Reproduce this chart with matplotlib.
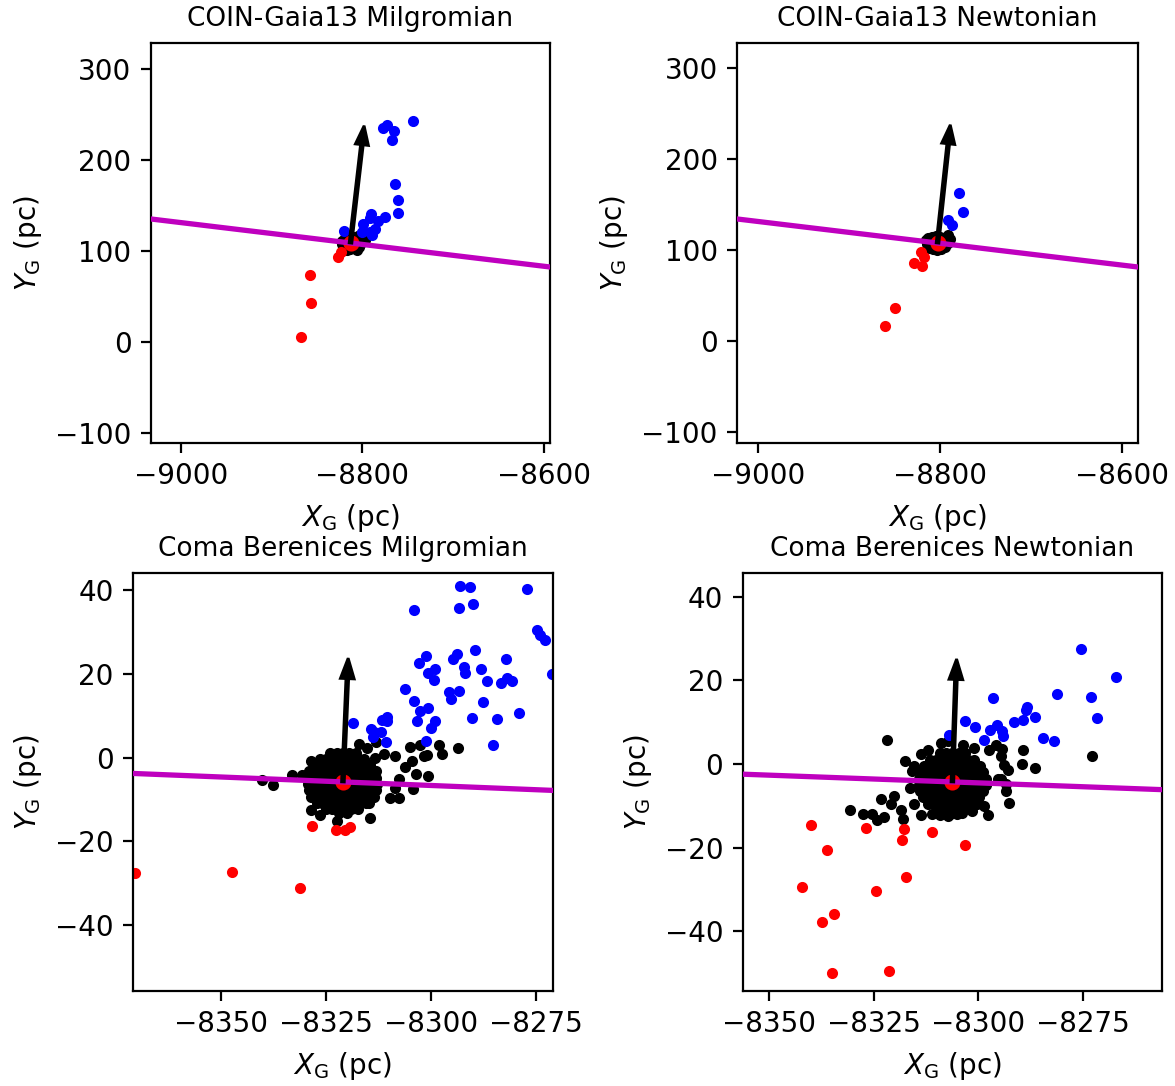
import matplotlib
matplotlib.use("Agg")
import matplotlib.pyplot as plt
from matplotlib.ticker import MultipleLocator

# ---------------- data ----------------
titles = ["COIN-Gaia13 Milgromian", "COIN-Gaia13 Newtonian",
          "Coma Berenices Milgromian", "Coma Berenices Newtonian"]

# cluster centres (pc)
tl_center = (-8813.0, 108.5)
tr_center = (-8802.5, 108.0)
bl_center = (-8321.0, -5.8)
br_center = (-8306.2, -4.3)

# half-width of the square view (pc)
top_halfwidth = 220.0
bottom_halfwidth = 50.0

# motion arrows (dx, dy) in pc
tl_arrow = (15.0, 129.0)
tr_arrow = (14.0, 130.0)
bl_arrow = (1.25, 29.6)
br_arrow = (1.0, 29.4)

# slope of the magenta line through the centre
tl_slope = -0.12
tr_slope = -0.12
bl_slope = -0.0405
br_slope = -0.037

# ---- COIN-Gaia13 Milgromian ----
tl_black_x = [-8822.5, -8819, -8815, -8810, -8805, -8802, -8799, -8797, -8801, -8804,
              -8806, -8810, -8814, -8817, -8820, -8822, -8816, -8811, -8808, -8814, -8807]
tl_black_y = [110.5, 114.5, 116.5, 115.5, 116.5, 117.5, 112.5, 111.5, 108.5, 104.5,
              100.5, 102.5, 101.5, 101.0, 104.5, 107.5, 109.5, 110.5, 106.5, 105.5, 111.5]
tl_blue_x = [-8744.1, -8777.4, -8772.3, -8764.6, -8766.8, -8764.2, -8760.9, -8760.9, -8774.5,
             -8782.9, -8790.3, -8791.4, -8799.4, -8785.9, -8791.4, -8789.2, -8820.7, -8800.5]
tl_blue_y = [243.2, 235.1, 238.0, 231.8, 221.6, 173.2, 156.0, 141.0, 137.3,
             132.9, 140.3, 135.5, 128.9, 124.1, 120.5, 116.8, 121.9, 120.8]
tl_red_x = [-8867.2, -8856.9, -8857.6, -8826.9, -8823.2]
tl_red_y = [5.1, 42.1, 72.9, 93.4, 98.5]

# ---- COIN-Gaia13 Newtonian ----
tr_black_x = [-8815.5, -8812.5, -8808.5, -8804.5, -8799.5, -8794.5, -8790.5, -8788.5, -8791.5, -8794.5,
              -8798.5, -8803.5, -8807.5, -8811.5, -8814.5, -8808.5, -8802.5, -8797.5, -8801.5, -8805.5]
tr_black_y = [111, 114, 115, 116, 115, 114, 117, 112, 108, 104,
              101, 100, 101, 103, 107, 108, 110, 109, 105, 105]
tr_blue_x = [-8778.7, -8774.3, -8791.5, -8786.4]
tr_blue_y = [163.0, 142.5, 133.3, 127.4]
tr_red_x = [-8820.5, -8817.9, -8828.2, -8819.7, -8849.4, -8859.7]
tr_red_y = [98.5, 92.6, 86.0, 83.1, 37.0, 16.5]

# ---- Coma Berenices Milgromian ----
# dense core: rows of offsets from the centre {dy: [dx, ...]}
bl_core_rows = {
    7.0: [-3, -1.5, 0, 1.5, 3],
    5.5: [-5.5, -4, -2.5, -1, 0.5, 2, 3.5, 5],
    4.0: [-7, -5.5, -4, -2.5, -1, 0.5, 2, 3.5, 5, 6.5],
    2.5: [-8, -6.5, -5, -3.5, -2, -0.5, 1, 2.5, 4, 5.5, 7, 8],
    1.0: [-8.3, -7, -5.5, -4, -2.5, -1, 0.5, 2, 3.5, 5, 6.5, 8],
    -0.5: [-8.4, -7, -5.5, -4, -2.5, -1, 0.5, 2, 3.5, 5, 6.5, 8.2],
    -2.0: [-8, -6.5, -5, -3.5, -2, -0.5, 1, 2.5, 4, 5.5, 7, 8],
    -3.5: [-7.5, -6, -4.5, -3, -1.5, 0, 1.5, 3, 4.5, 6, 7.5],
    -5.0: [-6.3, -5, -3.5, -2, -0.5, 1, 2.5, 4, 5.5, 6.3],
    -6.5: [-4, -2.5, -1, 0.5, 2, 3.5],
    -7.5: [-1, 1],
}
bl_black_x = [-8340.2, -8337.6, -8333.1, -8330.8, -8328.7, -8326.5, -8322.5, -8317.1, -8314.6, -8309.8,
              -8307.7, -8308.6, -8306.3, -8304.2, -8303.6, -8300.8, -8304.9, -8302.6, -8298.1, -8297.4,
              -8293.6, -8301.7, -8301.0, -8304.5, -8308.6, -8311.1, -8313.0, -8315.2, -8313.4, -8307.6,
              -8328.7]
bl_black_y = [-5.3, -6.5, -4.2, -4.2, -12.4, -13.7, -15.2, 3.3, -14.4, -9.7,
              -9.7, -7.3, -2.2, -7.5, -3.9, -4.5, 2.5, 3.0, 3.0, 0.9,
              2.4, 0.3, 0.6, -0.8, 0.5, 0.8, 3.7, 2.4, 0.0, -5.0,
              -0.8]
bl_blue_x = [-8293.2, -8290.8, -8277.0, -8304.1, -8293.4, -8290.1, -8274.8, -8274.1, -8272.7, -8289.4,
             -8293.7, -8294.8, -8301.2, -8302.9, -8292.1, -8299.0, -8300.6, -8291.8, -8299.3, -8288.0,
             -8286.7, -8282.1, -8281.8, -8280.7, -8283.4, -8271.1, -8306.1, -8295.6, -8293.4, -8295.2,
             -8304.1, -8287.7, -8300.8, -8302.7, -8303.4, -8299.1, -8290.2, -8284.3, -8278.9, -8299.9,
             -8285.3, -8301.2, -8318.6, -8311.7, -8310.6, -8310.5, -8314.4, -8313.6, -8311.9, -8313.8,
             -8310.7]
bl_blue_y = [41.0, 40.9, 40.3, 35.2, 35.7, 36.8, 30.5, 29.3, 28.2, 25.8,
             24.8, 23.6, 24.2, 22.6, 21.8, 21.1, 20.2, 20.2, 18.6, 21.2,
             18.3, 23.6, 19.1, 18.4, 17.9, 20.1, 16.4, 15.6, 16.0, 14.0,
             13.6, 13.4, 11.9, 11.1, 8.7, 8.8, 9.4, 9.3, 10.8, 7.0,
             3.1, 3.9, 8.3, 8.9, 9.8, 8.7, 6.9, 6.2, 6.2, 5.0,
             3.8]
bl_red_x = [-8370.5, -8347.4, -8331.3, -8328.4, -8322.6, -8320.4, -8319.2]
bl_red_y = [-27.5, -27.4, -31.1, -16.4, -17.4, -17.2, -16.5]

# ---- Coma Berenices Newtonian ----
br_core_rows = {
    6.8: [-3, -1.5, 0, 1.5, 3],
    5.3: [-5.3, -3.8, -2.3, -0.8, 0.7, 2.2, 3.7, 5.2],
    3.8: [-6.8, -5.3, -3.8, -2.3, -0.8, 0.7, 2.2, 3.7, 5.2, 6.7],
    2.3: [-7.6, -6.1, -4.6, -3.1, -1.6, -0.1, 1.4, 2.9, 4.4, 5.9, 7.4],
    0.8: [-8, -6.5, -5, -3.5, -2, -0.5, 1, 2.5, 4, 5.5, 7, 8],
    -0.7: [-8, -6.5, -5, -3.5, -2, -0.5, 1, 2.5, 4, 5.5, 7, 8],
    -2.2: [-7.7, -6.2, -4.7, -3.2, -1.7, -0.2, 1.3, 2.8, 4.3, 5.8, 7.3],
    -3.7: [-7.1, -5.6, -4.1, -2.6, -1.1, 0.4, 1.9, 3.4, 4.9, 6.4],
    -5.2: [-5.8, -4.3, -2.8, -1.3, 0.2, 1.7, 3.2, 4.7, 5.9],
    -6.7: [-3.5, -2, -0.5, 1, 2.5],
    -7.6: [-0.5, 1],
}
br_black_x = [-8321.8, -8273.0, -8289.3, -8289.6, -8286.4, -8330.5, -8327.4, -8325.4, -8324.1, -8322.5,
              -8323.3, -8320.1, -8320.8, -8318.5, -8318.0, -8317.4, -8313.6, -8311.1, -8309.1, -8307.3,
              -8297.7, -8292.6, -8293.4, -8292.9, -8294.0, -8294.5, -8294.3, -8295.9, -8297.4, -8301.1,
              -8303.7, -8307.2, -8308.8, -8311.9, -8313.7, -8315.3, -8315.8, -8316.4, -8315.4, -8295.4,
              -8294.6, -8293.5, -8298.7, -8303.8, -8301.5]
br_black_y = [5.8, 1.9, 3.4, 0.0, -0.9, -10.9, -11.9, -12.0, -13.5, -12.8,
              -8.3, -7.6, -9.5, -11.0, -13.1, 0.8, -12.1, -11.9, -12.3, -12.5,
              -12.2, -9.4, -6.4, -1.5, -0.3, 1.8, 3.6, 4.5, 3.3, 3.9,
              4.5, 5.5, 4.9, 3.3, 2.3, -0.5, -1.7, -5.7, -9.7, -3.7,
              -3.7, -4.9, -10.1, -11.7, -11.3]
br_blue_x = [-8275.6, -8267.3, -8296.4, -8281.2, -8273.1, -8271.6, -8288.7, -8288.4, -8286.5, -8289.4,
             -8291.6, -8303.2, -8300.7, -8295.5, -8297.2, -8294.3, -8294.1, -8298.6, -8284.5, -8282.0,
             -8307.0]
br_blue_y = [27.5, 20.7, 15.8, 16.7, 16.1, 10.9, 12.9, 13.6, 11.3, 10.6,
             10.0, 10.2, 8.8, 9.2, 8.0, 7.8, 6.7, 5.8, 6.3, 5.4,
             7.0]
br_red_x = [-8340.0, -8336.1, -8342.1, -8337.3, -8334.5, -8334.9, -8321.2, -8326.8, -8317.8, -8318.1,
            -8317.2, -8324.3, -8311.0, -8303.2]
br_red_y = [-14.5, -20.7, -29.5, -37.8, -36.0, -50.1, -49.6, -15.3, -15.5, -18.3,
            -27.0, -30.5, -16.3, -19.3]

x_tick_step = [200, 200, 25, 25]
y_tick_step = [100, 100, 20, 20]

# ---------------- figure ----------------
plt.rcParams["font.family"] = ["DejaVu Sans"]
plt.rcParams["font.size"] = 10

fig = plt.figure(figsize=(5.875, 5.43), dpi=200)
positions = [
    [0.1285, 0.5921, 0.3396, 0.3683],
    [0.6275, 0.5921, 0.3408, 0.3683],
    [0.1134, 0.0875, 0.3569, 0.3850],
    [0.6321, 0.0875, 0.3569, 0.3850],
]


def core_points(center, rows):
    xs, ys = [], []
    for dy, dxs in rows.items():
        for dx in dxs:
            xs.append(center[0] + dx)
            ys.append(center[1] + dy)
    return xs, ys


bl_core_x, bl_core_y = core_points(bl_center, bl_core_rows)
br_core_x, br_core_y = core_points(br_center, br_core_rows)

panels = [
    dict(center=tl_center, hw=top_halfwidth, arrow=tl_arrow, slope=tl_slope,
         black=(tl_black_x, tl_black_y), blue=(tl_blue_x, tl_blue_y), red=(tl_red_x, tl_red_y),
         aw=3.0, ahw=14.5, ahl=21.0),
    dict(center=tr_center, hw=top_halfwidth, arrow=tr_arrow, slope=tr_slope,
         black=(tr_black_x, tr_black_y), blue=(tr_blue_x, tr_blue_y), red=(tr_red_x, tr_red_y),
         aw=3.0, ahw=14.5, ahl=21.0),
    dict(center=bl_center, hw=bottom_halfwidth, arrow=bl_arrow, slope=bl_slope,
         black=(bl_core_x + bl_black_x, bl_core_y + bl_black_y),
         blue=(bl_blue_x, bl_blue_y), red=(bl_red_x, bl_red_y),
         aw=0.65, ahw=3.3, ahl=4.9),
    dict(center=br_center, hw=bottom_halfwidth, arrow=br_arrow, slope=br_slope,
         black=(br_core_x + br_black_x, br_core_y + br_black_y),
         blue=(br_blue_x, br_blue_y), red=(br_red_x, br_red_y),
         aw=0.65, ahw=3.3, ahl=4.9),
]

for i, p in enumerate(panels):
    ax = fig.add_axes(positions[i])
    cx, cy = p["center"]
    hw = p["hw"]
    ax.plot(p["black"][0], p["black"][1], "k.", zorder=2)
    ax.plot(p["blue"][0], p["blue"][1], "b.", zorder=2)
    ax.plot(p["red"][0], p["red"][1], "r.", zorder=2)
    ax.plot([cx], [cy], "o", color="red", ms=4.8, zorder=3)
    xl = (cx - hw, cx + hw)
    ax.plot(list(xl), [cy + p["slope"] * (xl[0] - cx), cy + p["slope"] * (xl[1] - cx)],
            color="m", lw=1.9, zorder=4)
    ax.arrow(cx, cy, p["arrow"][0], p["arrow"][1], width=p["aw"], head_width=p["ahw"],
             head_length=p["ahl"], length_includes_head=True, color="k", zorder=5)
    ax.set_xlim(*xl)
    ax.set_ylim(cy - hw, cy + hw)
    ax.xaxis.set_major_locator(MultipleLocator(x_tick_step[i]))
    ax.yaxis.set_major_locator(MultipleLocator(y_tick_step[i]))
    ax.set_xlabel(r"$X_\mathrm{G}$ (pc)")
    ax.set_ylabel(r"$Y_\mathrm{G}$ (pc)")
    ax.set_title(titles[i], fontsize=9.5)

fig.savefig("out.png", dpi=200)
